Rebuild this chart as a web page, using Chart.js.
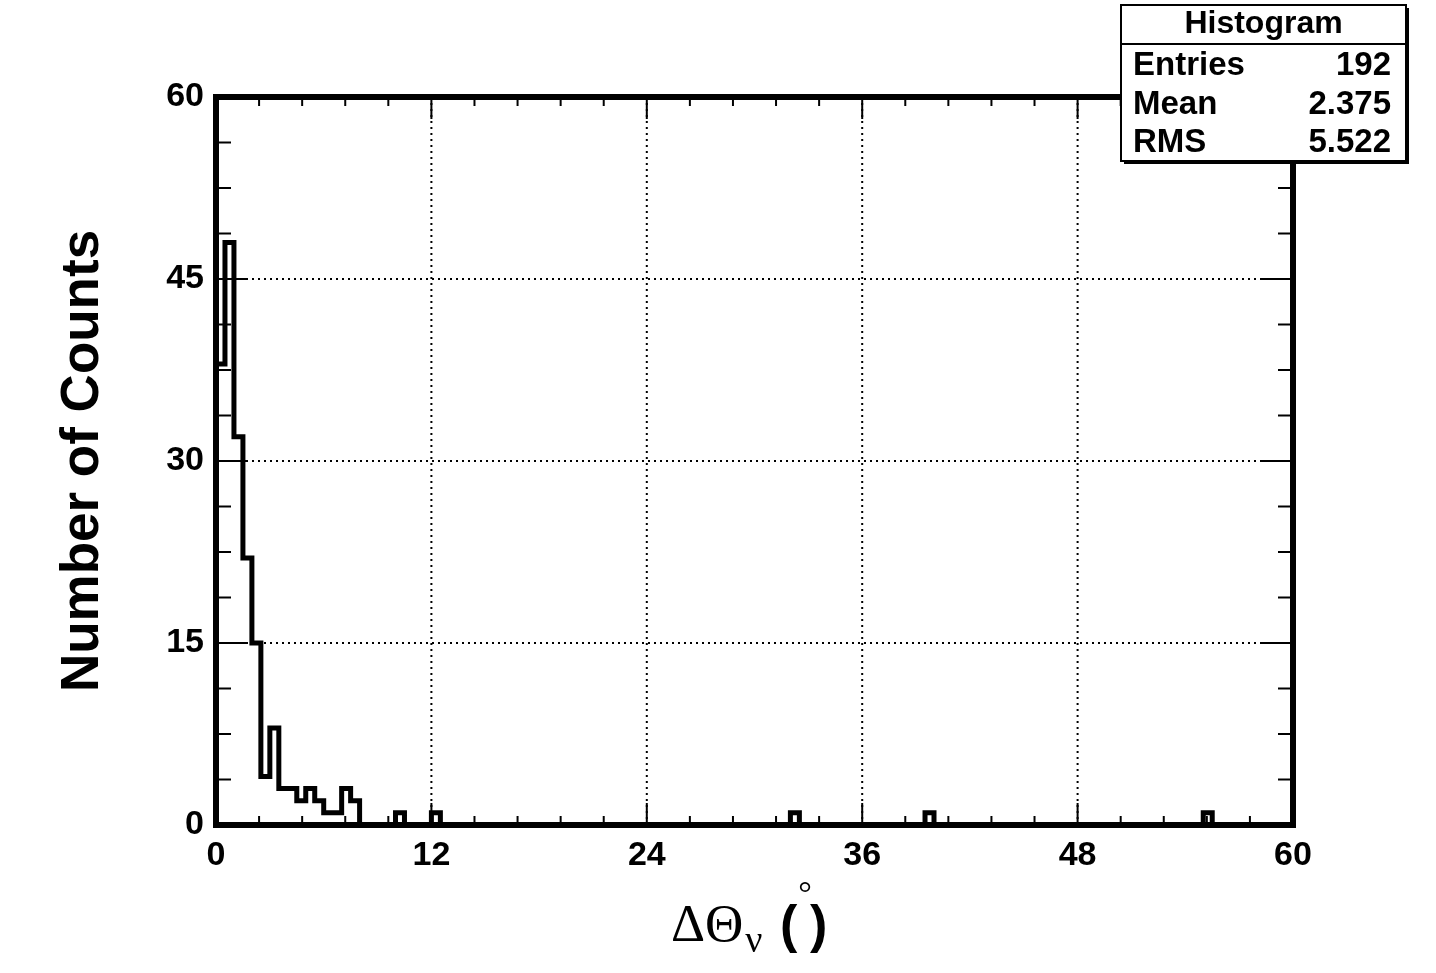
<!DOCTYPE html>
<html>
<head>
<meta charset="utf-8">
<script src="https://cdn.jsdelivr.net/npm/chart.js@4/dist/chart.umd.min.js"></script>
<style>
  html, body { margin: 0; padding: 0; background: #fff; }
</style>
</head>
<body>
<canvas id="histo" width="1436" height="973"></canvas>
<script>
// histogram data
const binWidth = 0.5;
const xRange = [0, 60];
const headCounts = [38, 48, 32, 22, 15, 4, 8, 3, 3, 2, 3, 2, 1, 1, 3, 2]; // bins 0 .. 8
const singleBins = [10.0, 12.0, 32.0, 39.5, 55.0]; // lower edges of the lone 1-count bins
const xTickValues = [0, 12, 24, 36, 48, 60];
const yTickValues = [0, 15, 30, 45, 60];
const xMinorDiv = 5;
const yMinorDiv = 4;
const statLabels = ['Entries', 'Mean', 'RMS'];
const statValues = ['192', '2.375', '5.522'];

const nBins = Math.round((xRange[1] - xRange[0]) / binWidth);
const counts = new Array(nBins).fill(0);
headCounts.forEach((c, i) => counts[i] = c);
singleBins.forEach(lo => counts[Math.round((lo - xRange[0]) / binWidth)] += 1);

const points = [{ x: xRange[0], y: 0 }];
counts.forEach((c, i) => points.push({ x: xRange[0] + i * binWidth, y: c }));
points.push({ x: xRange[1], y: 0 });

const SANS = '"Liberation Sans", Arial, Helvetica, sans-serif';
const SERIF = '"Liberation Serif", "Times New Roman", serif';

// ROOT style frame: dotted grid, thick box, inward ticks, stats box, x title
const rootFrame = {
  id: 'rootFrame',
  beforeDatasetsDraw(chart) {
    const { ctx, chartArea: a, scales: { x, y } } = chart;
    ctx.save();
    ctx.strokeStyle = '#000';
    ctx.lineWidth = 2;
    ctx.setLineDash([2, 4]);
    x.ticks.forEach(t => {
      if (t.value <= xRange[0] || t.value >= xRange[1]) return;
      const px = x.getPixelForValue(t.value);
      ctx.beginPath(); ctx.moveTo(px, a.top); ctx.lineTo(px, a.bottom); ctx.stroke();
    });
    y.ticks.forEach(t => {
      if (t.value <= 0 || t.value >= 60) return;
      const py = y.getPixelForValue(t.value);
      ctx.beginPath(); ctx.moveTo(a.left, py); ctx.lineTo(a.right, py); ctx.stroke();
    });
    ctx.restore();
  },
  afterDatasetsDraw(chart) {
    const { ctx, chartArea: a, scales: { x, y } } = chart;
    ctx.save();
    ctx.strokeStyle = '#000';
    ctx.lineWidth = 2;
    const tick = (x1, y1, x2, y2) => { ctx.beginPath(); ctx.moveTo(x1, y1); ctx.lineTo(x2, y2); ctx.stroke(); };

    const xt = x.ticks.map(t => t.value);
    xt.forEach((v, i) => {
      const px = x.getPixelForValue(v);
      tick(px, a.bottom, px, a.bottom - 22);
      tick(px, a.top, px, a.top + 22);
      if (i < xt.length - 1) {
        const step = (xt[i + 1] - v) / xMinorDiv;
        for (let k = 1; k < xMinorDiv; k++) {
          const pm = x.getPixelForValue(v + k * step);
          tick(pm, a.bottom, pm, a.bottom - 9);
          tick(pm, a.top, pm, a.top + 9);
        }
      }
    });
    const yt = y.ticks.map(t => t.value);
    yt.forEach((v, i) => {
      const py = y.getPixelForValue(v);
      tick(a.left, py, a.left + 32, py);
      tick(a.right, py, a.right - 32, py);
      if (i < yt.length - 1) {
        const step = (yt[i + 1] - v) / yMinorDiv;
        for (let k = 1; k < yMinorDiv; k++) {
          const pm = y.getPixelForValue(v + k * step);
          tick(a.left, pm, a.left + 15, pm);
          tick(a.right, pm, a.right - 15, pm);
        }
      }
    });

    ctx.lineWidth = 6;
    ctx.strokeRect(a.left, a.top, a.right - a.left, a.bottom - a.top);
    ctx.restore();
  },
  afterDraw(chart) {
    const { ctx } = chart;
    ctx.save();
    ctx.fillStyle = '#000';

    // x axis title: ΔΘ_ν (°)
    ctx.textBaseline = 'alphabetic';
    ctx.textAlign = 'left';
    ctx.font = '53px ' + SERIF;
    const x0 = 671;
    ctx.fillText('ΔΘ', x0, 941);
    const w = ctx.measureText('ΔΘ').width;
    ctx.font = '38px ' + SERIF;
    ctx.fillText('ν', x0 + w + 2, 952);
    ctx.font = 'bold 52px ' + SANS;
    ctx.fillText('(', 780, 942);
    ctx.fillText(')', 810, 942);
    ctx.font = '34px ' + SERIF;
    ctx.textAlign = 'center';
    ctx.fillText('°', 805, 904);

    // stats box
    const bx = 1121, by = 5, bw = 285, bh = 156;
    ctx.fillRect(bx + 3, by + 3, bw, bh);
    ctx.fillStyle = '#fff';
    ctx.fillRect(bx, by, bw, bh);
    ctx.strokeStyle = '#000';
    ctx.lineWidth = 2;
    ctx.strokeRect(bx, by, bw, bh);
    ctx.beginPath(); ctx.moveTo(bx, by + 39); ctx.lineTo(bx + bw, by + 39); ctx.stroke();
    ctx.fillStyle = '#000';
    ctx.font = 'bold 32px ' + SANS;
    ctx.textBaseline = 'middle';
    ctx.textAlign = 'center';
    ctx.fillText('Histogram', bx + bw / 2, by + 19);
    ctx.font = 'bold 33px ' + SANS;
    const rowY = [66, 105, 143];
    statLabels.forEach((lab, i) => {
      ctx.textAlign = 'left';
      ctx.fillText(lab, 1133, rowY[i]);
      ctx.textAlign = 'right';
      ctx.fillText(statValues[i], 1391, rowY[i]);
    });
    ctx.restore();
  }
};

const tickFont = { family: SANS, size: 34, weight: 'bold' };

new Chart(document.getElementById('histo'), {
  type: 'line',
  data: {
    datasets: [{
      data: points,
      stepped: true,
      borderColor: '#000',
      borderWidth: 5,
      pointRadius: 0,
      fill: false,
      borderJoinStyle: 'miter'
    }]
  },
  options: {
    responsive: false,
    animation: false,
    devicePixelRatio: 1,
    layout: { padding: { top: 97, right: 143, left: 0, bottom: 0 } },
    plugins: { legend: { display: false }, tooltip: { enabled: false } },
    scales: {
      x: {
        type: 'linear',
        min: xRange[0],
        max: xRange[1],
        afterBuildTicks: s => { s.ticks = xTickValues.map(v => ({ value: v })); },
        afterFit: s => { s.height = 148; },
        ticks: { font: tickFont, color: '#000', padding: 10, maxRotation: 0, autoSkip: false },
        grid: { display: false, drawTicks: false },
        border: { display: false }
      },
      y: {
        min: 0,
        max: 60,
        afterBuildTicks: s => { s.ticks = yTickValues.map(v => ({ value: v })); },
        afterFit: s => { s.width = 216; },
        ticks: { font: tickFont, color: '#000', padding: 12 },
        grid: { display: false, drawTicks: false },
        border: { display: false },
        title: {
          display: true,
          text: 'Number of Counts',
          color: '#000',
          font: { family: SANS, size: 53, weight: 'bold' },
          padding: { top: 52, bottom: 0 }
        }
      }
    }
  },
  plugins: [rootFrame]
});
</script>
</body>
</html>
